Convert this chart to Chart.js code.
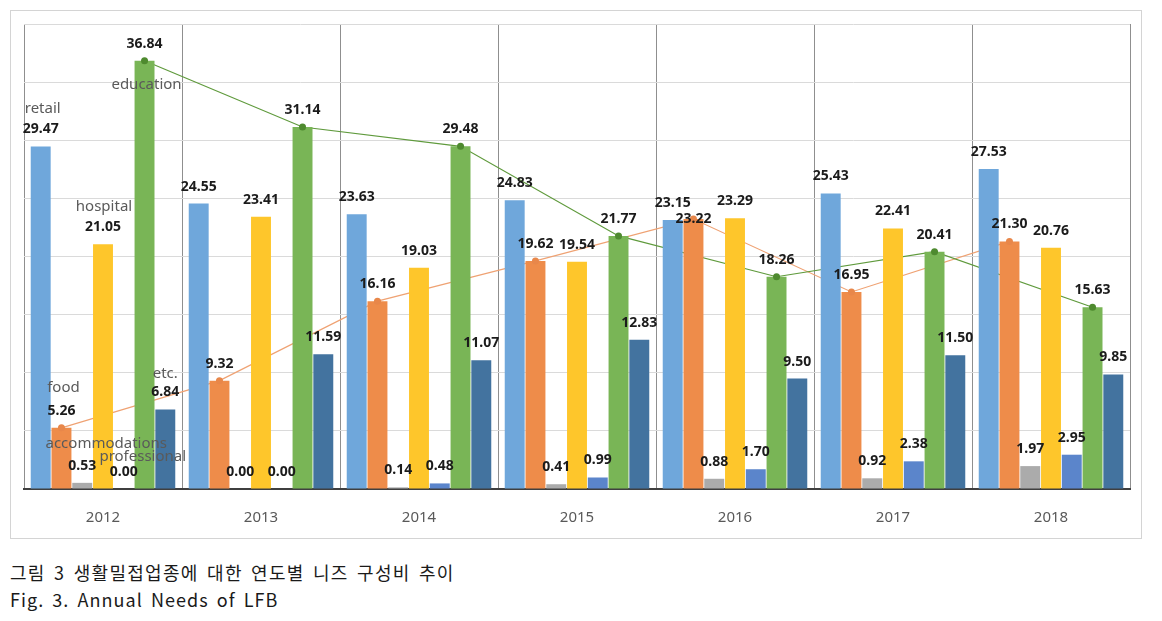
<!DOCTYPE html>
<html>
<head>
<meta charset="utf-8">
<script src="https://cdn.jsdelivr.net/npm/chart.js@4.4.1/dist/chart.umd.min.js"></script>
<style>
  html, body { margin: 0; padding: 0; background: #fff; width: 1162px; height: 621px; overflow: hidden; }
  #frame { position: absolute; left: 10px; top: 10px; width: 1130px; height: 527px; border: 1px solid #d4d4d4; }
  #c { position: absolute; left: 0; top: 0; }
  .cap { position: absolute; left: 10px; font-family: "Noto Sans CJK KR", sans-serif; color: #1a1a1a; white-space: nowrap; }
  #cap1 { top: 561px; font-size: 18px; letter-spacing: 1.3px; word-spacing: 3px; line-height: 22px; }
  #cap2 { top: 588px; font-size: 18px; letter-spacing: 1.05px; word-spacing: 3px; line-height: 22px; }
</style>
</head>
<body>
<div id="frame"></div>
<canvas id="c" width="1162" height="545"></canvas>
<div class="cap" id="cap1">그림 3 생활밀접업종에 대한 연도별 니즈 구성비 추이</div>
<div class="cap" id="cap2">Fig. 3. Annual Needs of LFB</div>
<script>
// ---- data ----
const categories = ['2012', '2013', '2014', '2015', '2016', '2017', '2018'];
const seriesNames = ['retail', 'food', 'accommodations', 'hospital', 'professional', 'education', 'etc.'];
const retail = [29.47, 24.55, 23.63, 24.83, 23.15, 25.43, 27.53];
const food = [5.26, 9.32, 16.16, 19.62, 23.22, 16.95, 21.30];
const accommodations = [0.53, 0.00, 0.14, 0.41, 0.88, 0.92, 1.97];
const hospital = [21.05, 23.41, 19.03, 19.54, 23.29, 22.41, 20.76];
const professional = [0.00, 0.00, 0.48, 0.99, 1.70, 2.38, 2.95];
const education = [36.84, 31.14, 29.48, 21.77, 18.26, 20.41, 15.63];
const etc = [6.84, 11.59, 11.07, 12.83, 9.50, 11.50, 9.85];
const yTicks = { min: 0, max: 40, step: 5 };
// series that also get a trend line through their bar tops
const trendSeries = ['food', 'education'];

// ---- styles ----
const barColors = ['#6FA7DB', '#EE8C4A', '#ABABAB', '#FEC62B', '#5B85CB', '#79B556', '#43739F'];
const trendStyles = {
  food: { line: '#EFA273', dot: '#E8874A' },
  education: { line: '#5F9A3C', dot: '#4E8A2F' }
};
const seriesValues = [retail, food, accommodations, hospital, professional, education, etc];
const nBars = seriesValues.length;

// name annotation offsets (relative to first-group bar top)
const nameOffsets = [[2, -38], [2, -40], [24, -39], [1, -38], [19, -32], [2, 24], [0, -36]];
// individual label shifts (dataset:index -> dy)
const labelShift = { '1:4': 17 };

const datasets = seriesValues.map((vals, k) => ({
  label: seriesNames[k],
  data: vals,
  backgroundColor: barColors[k],
  categoryPercentage: 0.92,
  barPercentage: 0.96
}));

function trendPoints(chart, name) {
  const k = seriesNames.indexOf(name);
  return chart.getDatasetMeta(k).data.map(el => ({ x: el.x, y: el.y }));
}

const trendPlugin = {
  id: 'trend',
  beforeDatasetsDraw(chart) {
    const ctx = chart.ctx;
    ctx.save();
    trendSeries.forEach(name => {
      const pts = trendPoints(chart, name);
      ctx.strokeStyle = trendStyles[name].line;
      ctx.lineWidth = 1.2;
      ctx.beginPath();
      pts.forEach((p, i) => i ? ctx.lineTo(p.x, p.y) : ctx.moveTo(p.x, p.y));
      ctx.stroke();
    });
    ctx.restore();
  },
  afterDatasetsDraw(chart) {
    const ctx = chart.ctx;
    ctx.save();
    trendSeries.forEach(name => {
      ctx.fillStyle = trendStyles[name].dot;
      trendPoints(chart, name).forEach(p => {
        ctx.beginPath();
        ctx.arc(p.x, p.y, 3.5, 0, Math.PI * 2);
        ctx.fill();
      });
    });
    ctx.textAlign = 'center';
    ctx.textBaseline = 'middle';
    for (let k = 0; k < nBars; k++) {
      const meta = chart.getDatasetMeta(k);
      meta.data.forEach((el, i) => {
        const dy = labelShift[k + ':' + i] || 0;
        ctx.font = 'bold 14px "Noto Sans"';
        ctx.fillStyle = '#1b1b1b';
        ctx.fillText(seriesValues[k][i].toFixed(2), el.x, el.y - 17 + dy);
      });
      const first = meta.data[0];
      ctx.font = '15px "Noto Sans"';
      ctx.fillStyle = '#5a5a5a';
      ctx.fillText(seriesNames[k], first.x + nameOffsets[k][0], first.y + nameOffsets[k][1]);
    }
    ctx.restore();
  }
};

new Chart(document.getElementById('c'), {
  type: 'bar',
  data: { labels: categories, datasets },
  options: {
    responsive: false,
    animation: false,
    layout: { padding: { left: 24, top: 24, right: 32, bottom: 16 } },
    plugins: { legend: { display: false }, tooltip: { enabled: false } },
    scales: {
      x: {
        grid: { offset: true, color: '#8f8f8f', lineWidth: 1, drawTicks: false },
        border: { display: true, color: '#3f3f3f', width: 2 },
        ticks: { padding: 20, color: '#595959', font: { size: 15, family: '"Noto Sans"' } },
        afterFit(s) { s.height = 40; }
      },
      y: {
        min: yTicks.min, max: yTicks.max,
        ticks: { stepSize: yTicks.step, display: false },
        grid: { color: '#dadada', lineWidth: 1, drawTicks: false },
        border: { display: false },
        afterFit(s) { s.width = 0; }
      }
    }
  },
  plugins: [trendPlugin]
});
</script>
</body>
</html>
